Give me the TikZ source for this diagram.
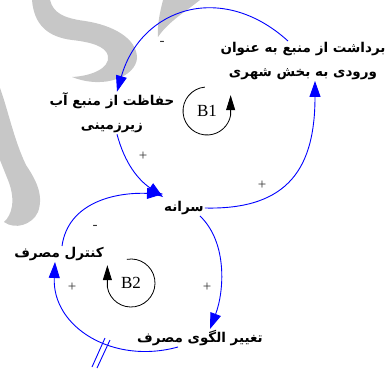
\documentclass[tikz,border=0pt]{standalone}
\usepackage{fontspec}
\setmainfont{Liberation Serif}
\newfontfamily\farsi[Script=Arabic]{DejaVu Sans}
\TeXXeTstate=1
\usetikzlibrary{arrows.meta,positioning}
\tikzset
{
	varnode/.style = {font=\farsi\bfseries\fontsize{13.5}{24}\selectfont, align=center, inner sep=1pt},
	signnode/.style = {font=\fontsize{15}{15}\selectfont, text=black!80, inner sep=0pt},
	loopname/.style = {font=\fontsize{17}{17}\selectfont, inner sep=0pt},
	link/.style = {draw=blue, line width=0.9pt, -{Triangle[length=16pt,width=11pt]}},
	looparc/.style = {draw=black, line width=0.8pt, -{Triangle[length=15pt,width=9pt]}},
	delay/.style = {draw=blue, line width=0.9pt},
	watermark/.style = {fill=black!22, draw=none}
}

\begin{document}
\begin{tikzpicture}[x=1pt, y=1pt]
\useasboundingbox (0,0) rectangle (385,-369);
% watermark
\fill[watermark] (32,0) -- (50,0) .. controls (53,-12) and (62,-18) .. (85,-21) .. controls (112,-25) and (137,-38) .. (137,-58) .. controls (136,-76) and (105,-90) .. (72,-77) .. controls (92,-76) and (110,-68) .. (108,-56) .. controls (106,-46) and (90,-42) .. (72,-40) .. controls (48,-37) and (34,-25) .. (32,0) -- cycle;
\fill[watermark] (163,0) -- (200,0) .. controls (185,-12) and (168,-22) .. (158,-37) .. controls (157,-25) and (160,-12) .. (163,0) -- cycle;
\fill[watermark] (0,-88) .. controls (8,-110) and (14,-140) .. (26,-165) .. controls (36,-180) and (44,-195) .. (38,-212) .. controls (32,-225) and (15,-230) .. (4,-222) .. controls (12,-215) and (16,-200) .. (8,-180) .. controls (4,-170) and (2,-165) .. (0,-160) -- cycle;

% variables
\node[varnode] (brd) at (303,-61) {\beginR برداشت از منبع به عنوان\endR\\\beginR ورودی به بخش شهری\endR};
\node[varnode] (hfz) at (112,-113) {\beginR حفاظت از منبع آب\endR\\\beginR زیرزمینی\endR};
\node[varnode] (srn) at (184,-208) {\beginR سرانه\endR};
\node[varnode] (knt) at (59,-254) {\beginR کنترل مصرف\endR};
\node[varnode] (tgh) at (200,-338) {\beginR تغییر الگوی مصرف\endR};

% loops
\node[loopname] (lb1) at (207,-111) {B1};
\node[loopname] (lb2) at (131,-283) {B2};
\draw[looparc] (lb1) ++(95:24) arc[start angle=95, end angle=350, radius=24] -- ++(0,20);
\draw[looparc] (lb2) ++(100:24) arc[start angle=100, end angle=-170, radius=24] -- ++(0,22);

% links
\draw[link] ([xshift=-15pt]brd.north) .. controls +(-66,60) and +(24,84) .. ([xshift=5pt]hfz.north);
\draw[link] ([xshift=5pt]hfz.south) to[out=-75, in=145] ([yshift=3pt]srn.north west);
\draw[link] (srn.east) .. controls +(85,-2) and +(0,-85) .. ([xshift=12pt]brd.south);
\draw[link] ([xshift=16pt]srn.south) .. controls +(28,-27) and +(14,37) .. ([xshift=10pt]tgh.north);
\draw[link] ([xshift=-22pt]tgh.south) .. controls +(-65,-18) and +(-3,-65) .. ([xshift=-4pt]knt.south);
\draw[link] ([xshift=3pt]knt.north) .. controls +(6,43) and +(-49,2) .. ([yshift=6pt]srn.north west);

% delay
\draw[delay] (92,-367) -- (105,-338) (97,-368) -- (110,-340);

% polarities
\node[signnode] (s1) at (162,-43) {-};
\node[signnode] (s2) at (143,-156) {+};
\node[signnode] (s3) at (262,-185) {+};
\node[signnode] (s4) at (207,-287) {+};
\node[signnode] (s5) at (72,-287) {+};
\node[signnode] (s6) at (95,-227) {-};
\end{tikzpicture}
\end{document}
